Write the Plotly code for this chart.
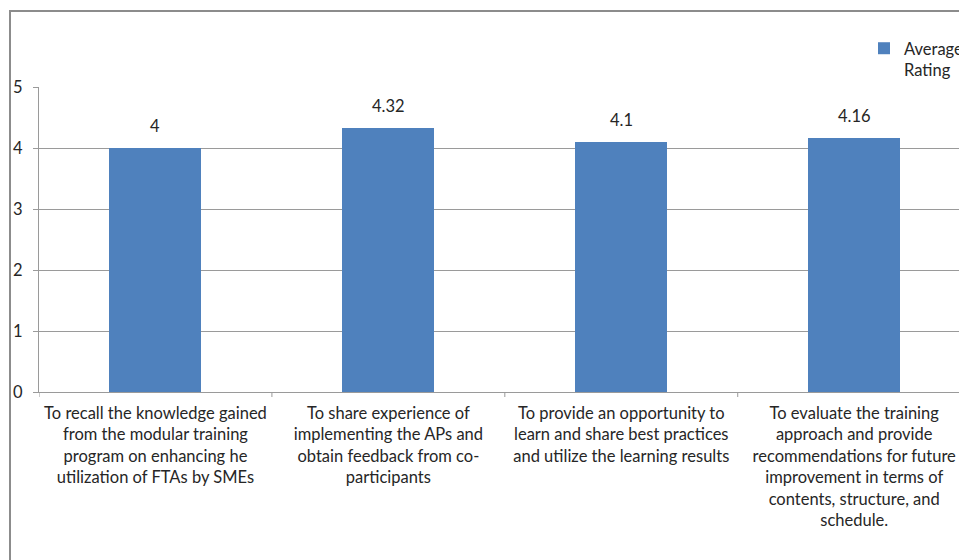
import plotly.graph_objects as go

categories = [
    "To recall the knowledge gained<br>from the modular training<br>program on enhancing he<br>utilization of FTAs by SMEs",
    "To share experience of<br>implementing the APs and<br>obtain feedback from co-<br>participants",
    "To provide an opportunity to<br>learn and share best practices<br>and utilize the learning results",
    "To evaluate the training<br>approach and provide<br>recommendations for future<br>improvement in terms of<br>contents, structure, and<br>schedule.",
]
values = [4, 4.32, 4.1, 4.16]
value_labels = ["4", "4.32", "4.1", "4.16"]
series_name = "Average<br>Rating"
y_ticks = [0, 1, 2, 3, 4, 5]

FONT = "Lato"
FS = 16.5
TXT = "#262626"
GRID = "#9a9a9a"

fig = go.Figure()
fig.add_trace(go.Bar(
    x=list(range(len(categories))),
    y=values,
    name=series_name,
    marker=dict(color="#4F81BD", line=dict(width=0)),
    width=0.395,
    showlegend=True,
))

for i, (v, lab) in enumerate(zip(values, value_labels)):
    fig.add_annotation(x=i, y=v, text=lab, showarrow=False, yshift=22,
                       font=dict(family=FONT, size=FS, color=TXT))

# outer chart border
fig.add_shape(type="rect", xref="paper", yref="paper",
              x0=(10 - 39) / 920, x1=1.2, y0=-1.0, y1=(392 - 11) / 305,
              line=dict(color="#8c8c8c", width=2), fillcolor="rgba(0,0,0,0)",
              layer="below")

fig.update_layout(
    width=959, height=560,
    margin=dict(l=39, r=0, t=87, b=168, autoexpand=False),
    paper_bgcolor="white", plot_bgcolor="white",
    font=dict(family=FONT, size=FS, color=TXT),
    bargap=0,
    legend=dict(x=(864 - 39) / 920, y=(392 - 31) / 305, xanchor="left", yanchor="top",
                valign="top", font=dict(family=FONT, size=FS, color=TXT),
                bgcolor="rgba(0,0,0,0)"),
    xaxis=dict(
        type="linear",
        tickmode="array",
        tickvals=list(range(len(categories))),
        ticktext=categories,
        range=[-0.5, 3.45],
        showgrid=False,
        showline=True, linecolor=GRID, linewidth=1,
        ticks="", zeroline=False,
        ticklabelstandoff=6,
        tickfont=dict(family=FONT, size=FS, color=TXT),
    ),
    yaxis=dict(
        range=[0, 5],
        tickvals=y_ticks,
        showgrid=True, gridcolor=GRID, gridwidth=1,
        showline=True, linecolor=GRID, linewidth=1,
        ticks="outside", ticklen=5, tickcolor=GRID,
        ticklabelstandoff=7,
        zeroline=False,
        tickfont=dict(family=FONT, size=FS, color=TXT),
    ),
)

# category boundary tick marks on x axis
for b in [-0.5, 0.5, 1.5, 2.5]:
    fig.add_shape(type="line", xref="x", yref="paper", x0=b, x1=b, y0=0, y1=-5 / 305,
                  line=dict(color=GRID, width=1))

fig.write_html(
    "out.html",
    config={"displayModeBar": False},
    post_script="document.body.style.margin='0';document.body.style.overflow='hidden';",
)
